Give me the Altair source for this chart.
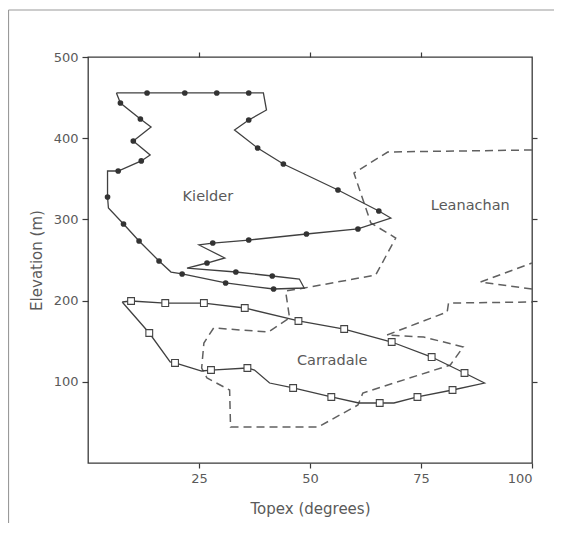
import altair as alt
import pandas as pd

# ---- data ----
kielder_x = [6.4, 7.3, 11.8, 14.2, 10.2, 14.0, 12.0, 6.8, 4.4, 4.4, 4.6, 8.0, 11.5, 16.0, 18.7,
             21.2, 31.0, 41.8, 48.7, 47.6, 41.5, 33.3, 22.3, 26.8, 30.8, 25.0, 28.1, 36.2, 49.2,
             60.8, 68.2, 65.5, 56.3, 44.0, 38.2, 33.0, 36.2, 40.2, 39.5, 36.2, 29.0, 21.8, 13.3, 6.4]
kielder_y = [455.7, 443.3, 423.6, 413.8, 396.6, 379.3, 372.0, 359.6, 359.6, 327.6, 314.0, 294.3,
             273.4, 248.8, 235.2, 232.8, 221.7, 214.3, 215.5, 226.6, 230.3, 235.2, 240.1, 246.3,
             252.5, 268.5, 270.9, 274.6, 282.0, 288.2, 301.7, 310.3, 336.2, 368.2, 387.9, 410.1,
             422.4, 434.7, 455.7, 455.7, 455.7, 455.7, 455.7, 455.7]
kielder_dot = [0, 1, 1, 0, 1, 0, 1, 1, 0, 1, 0, 1, 1, 1, 0, 1, 1, 1, 0, 0, 1, 1, 0, 1, 0, 0, 1,
               1, 1, 1, 0, 1, 1, 1, 1, 0, 1, 0, 0, 1, 1, 1, 1, 0]

carradale_x = [7.7, 9.7, 17.4, 26.1, 35.3, 47.4, 57.7, 68.4, 77.4, 84.8, 89.3, 82.1, 74.2, 68.9,
               65.7, 61.0, 54.8, 46.2, 40.9, 37.5, 35.9, 27.7, 25.6, 19.6, 18.5, 13.8, 7.7]
carradale_y = [198.3, 199.5, 197.0, 197.0, 190.9, 174.9, 165.0, 149.0, 130.5, 110.8, 98.5, 89.9,
               81.3, 73.9, 73.9, 73.9, 81.3, 92.4, 98.5, 114.5, 117.0, 114.5, 113.3, 123.2, 124.4,
               160.1, 198.3]
carradale_sq = [0, 1, 1, 1, 1, 1, 1, 1, 1, 1, 0, 1, 1, 0, 1, 0, 1, 1, 0, 0, 1, 1, 0, 1, 0, 1, 0]

leanachan_x = [100, 67.5, 59.9, 63.7, 69.3, 64.8, 48.7, 44.5, 45.4, 40.6, 28.3, 26.1, 25.6, 26.8,
               31.9, 32.1, 51.8, 60.8, 61.9, 81.6, 84.5, 75.6, 67.3, 80.9, 81.2, 100,
               100, 88.4, 100]
leanachan_y = [385.5, 383.0, 357.1, 295.6, 277.1, 231.5, 215.5, 211.8, 178.6, 161.3, 166.3, 147.8,
               117.0, 104.7, 89.9, 44.3, 44.3, 71.4, 86.2, 120.7, 142.9, 155.2, 157.6, 186.0,
               197.0, 198.3,
               214.3, 222.9, 246.3]
leanachan_seg = ["a"] * 26 + ["b"] * 3

label_text = ["Kielder", "Leanachan", "Carradale"]
label_x = [27.0, 86.1, 55.0]
label_y = [327.6, 316.5, 125.6]

x_ticks = [25, 50, 75, 100]
y_ticks = [100, 200, 300, 400, 500]

# ---- tables ----
kdf = pd.DataFrame({"x": kielder_x, "y": kielder_y, "dot": kielder_dot})
kdf["i"] = range(len(kdf))
cdf = pd.DataFrame({"x": carradale_x, "y": carradale_y, "sq": carradale_sq})
cdf["i"] = range(len(cdf))
ldf = pd.DataFrame({"x": leanachan_x, "y": leanachan_y, "seg": leanachan_seg})
ldf["i"] = range(len(ldf))
tdf = pd.DataFrame({"x": label_x, "y": label_y, "t": label_text})
fdf = pd.DataFrame({"k": [0]})

FONT = "DejaVu Sans"
INK = "#404040"
GREY = "#5a5a5a"
TICK = "#3a3a3a"

xs = alt.Scale(domain=[0, 100], nice=False, zero=False)
ys = alt.Scale(domain=[0, 500], nice=False, zero=False)

common = dict(grid=False, domain=False, tickColor=TICK, tickWidth=1.2,
              labelFont=FONT, labelFontSize=13, labelColor=GREY,
              titleFont=FONT, titleFontSize=15, titleFontWeight="normal", titleColor=GREY)

x_main = alt.Axis(values=x_ticks, title="Topex (degrees)", orient="bottom", tickSize=5,
                  labelPadding=4, titlePadding=16, **common)
y_main = alt.Axis(values=y_ticks, title="Elevation (m)", orient="left", tickSize=6,
                  labelPadding=4, titlePadding=9, **common)
x_top = alt.Axis(values=[25, 50, 75], orient="top", labels=False, title=None, tickSize=5,
                 **common)
y_right = alt.Axis(values=[100, 200, 300, 400], orient="right", labels=False, title=None,
                   tickSize=5, **common)

lean = alt.Chart(ldf).mark_line(color="#606060", strokeWidth=1.5, strokeDash=[8, 5]).encode(
    x=alt.X("x:Q", scale=xs, axis=x_main),
    y=alt.Y("y:Q", scale=ys, axis=y_main),
    detail="seg:N",
    order="i:Q",
)

kline = alt.Chart(kdf).mark_line(color=INK, strokeWidth=1.3).encode(
    x=alt.X("x:Q", scale=xs, axis=x_top),
    y=alt.Y("y:Q", scale=ys, axis=y_right),
    order="i:Q",
)

kdots = alt.Chart(kdf).transform_filter("datum.dot == 1").mark_point(
    shape="circle", filled=True, color="#333333", size=32, opacity=1
).encode(
    x=alt.X("x:Q", scale=xs, axis=None),
    y=alt.Y("y:Q", scale=ys, axis=None),
)

cline = alt.Chart(cdf).mark_line(color=INK, strokeWidth=1.3).encode(
    x=alt.X("x:Q", scale=xs, axis=None),
    y=alt.Y("y:Q", scale=ys, axis=None),
    order="i:Q",
)

csq = alt.Chart(cdf).transform_filter("datum.sq == 1").mark_point(
    shape="square", filled=False, fill="white", fillOpacity=1, stroke="#444444",
    strokeWidth=1.1, size=46, opacity=1
).encode(
    x=alt.X("x:Q", scale=xs, axis=None),
    y=alt.Y("y:Q", scale=ys, axis=None),
)

labels = alt.Chart(tdf).mark_text(font=FONT, fontSize=14.5, color=GREY).encode(
    x=alt.X("x:Q", scale=xs, axis=None),
    y=alt.Y("y:Q", scale=ys, axis=None),
    text="t:N",
)

frame_top = alt.Chart(fdf).mark_rule(color="#9a9a9a", strokeWidth=1.2).encode(
    x=alt.value(-79.5), x2=alt.value(470), y=alt.value(-47), y2=alt.value(-47)
)
frame_left = alt.Chart(fdf).mark_rule(color="#9a9a9a", strokeWidth=1.2).encode(
    x=alt.value(-79.5), x2=alt.value(-79.5), y=alt.value(-47), y2=alt.value(470)
)

chart = alt.layer(frame_top, frame_left, lean, kline, kdots, cline, csq, labels).resolve_axis(
    x="independent", y="independent"
).properties(
    width=444, height=406,
    autosize=alt.AutoSizeParams(type="none"),
    padding={"left": 80, "top": 49, "right": 22, "bottom": 60},
    background="white",
).configure_view(
    stroke="#3a3a3a", strokeWidth=1.3
).configure_axis(
    grid=False, domain=False
)

chart.save("out.html", embed_options={"renderer": "svg", "actions": False})
